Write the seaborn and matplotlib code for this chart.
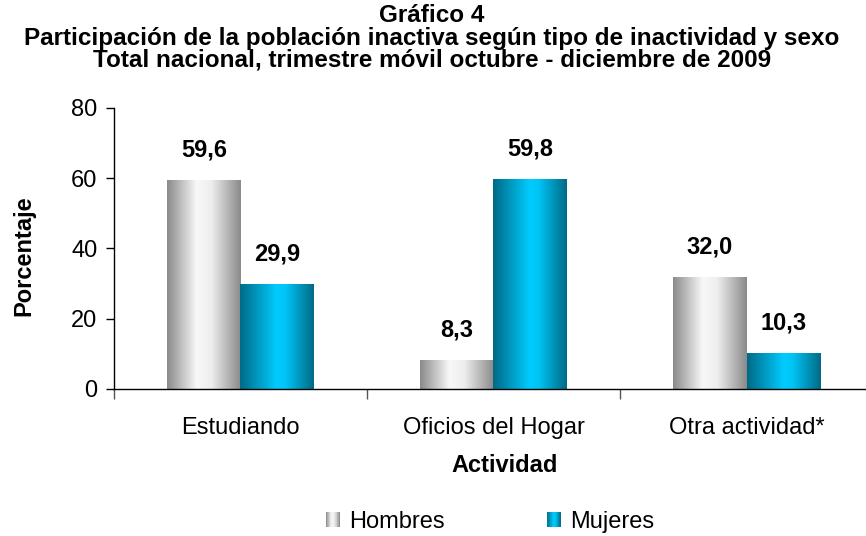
import matplotlib
matplotlib.use("Agg")
import numpy as np
import pandas as pd
import seaborn as sns
from matplotlib import pyplot as plt
from matplotlib.colors import LinearSegmentedColormap
from matplotlib.legend_handler import HandlerPatch
from matplotlib.patches import Patch, Rectangle

# Datos del gráfico
categorias = ["Estudiando", "Oficios del Hogar", "Otra actividad*"]
hombres = [59.6, 8.3, 32.0]
mujeres = [29.9, 59.8, 10.3]
series = ["Hombres", "Mujeres"]
titulo = ["Gráfico 4",
          "Participación de la población inactiva según tipo de inactividad y sexo",
          "Total nacional, trimestre móvil octubre - diciembre de 2009"]

sns.set_theme(style="white")
plt.rcParams['font.family'] = ['Liberation Sans', 'DejaVu Sans']
plt.rcParams['text.color'] = 'black'
plt.rcParams['axes.labelcolor'] = 'black'
plt.rcParams['xtick.color'] = 'black'
plt.rcParams['ytick.color'] = 'black'

df = pd.DataFrame({
    "Actividad": categorias * 2,
    "Sexo": [series[0]] * 3 + [series[1]] * 3,
    "Porcentaje": hombres + mujeres,
})

# Degradados tipo cilindro
cmap_gris = LinearSegmentedColormap.from_list(
    "gris", [(0.0, "#8a8a8a"), (0.4, "#f8f8f8"), (0.6, "#eeeeee"), (1.0, "#8a8a8a")])
cmap_cian = LinearSegmentedColormap.from_list(
    "cian", [(0.0, "#006a86"), (0.5, "#00ccff"), (0.62, "#00c4f4"), (1.0, "#006a86")])
cmaps = {"Hombres": cmap_gris, "Mujeres": cmap_cian}


class GradientHandler(HandlerPatch):
    def __init__(self, cmap, n=20):
        super().__init__()
        self.cmap = cmap
        self.n = n

    def create_artists(self, legend, orig_handle, xdescent, ydescent,
                       width, height, fontsize, trans):
        artists = []
        for i in range(self.n):
            r = Rectangle((-xdescent + width * i / self.n, -ydescent), width / self.n + 0.3, height,
                          facecolor=self.cmap((i + 0.5) / self.n), edgecolor="none", transform=trans)
            artists.append(r)
        return artists


fig = plt.figure(figsize=(8.66, 5.36), dpi=100)
ax = fig.add_axes([0.1316, 0.2743, 0.8765, 0.5243])

sns.barplot(data=df, x="Actividad", y="Porcentaje", hue="Sexo", hue_order=series,
            order=categorias, width=0.58, palette=["#c8c8c8", "#00a0c8"],
            legend=False, ax=ax, saturation=1)

# Pintar el degradado sobre cada barra
grad = np.linspace(0, 1, 256).reshape(1, -1)
for container, s in zip(ax.containers, series):
    for patch in container.patches:
        x0, w, h = patch.get_x(), patch.get_width(), patch.get_height()
        im = ax.imshow(grad, extent=[x0, x0 + w, 0, h], aspect="auto", cmap=cmaps[s],
                       zorder=patch.get_zorder() + 0.1)
        im.set_clip_path(patch)
    ax.bar_label(container, labels=[f"{v:.1f}".replace(".", ",") for v in container.datavalues],
                 padding=13, fontsize=17, fontweight="bold")

ax.set_xlim(-0.5, 2.5)
ax.set_ylim(0, 80)
ax.set_yticks([0, 20, 40, 60, 80])
ax.set_xticks([0.5, 1.5, -0.5], minor=True)
ax.tick_params(axis="x", which="major", length=0, pad=20, labelsize=17)
ax.tick_params(axis="x", which="minor", length=7, width=1, color="#555555", direction="out", bottom=True)
ax.tick_params(axis="y", length=6, width=1, color="black", direction="out", labelsize=17, left=True, pad=6)
sns.despine(ax=ax)
for sp in ["left", "bottom"]:
    ax.spines[sp].set_color("black")
    ax.spines[sp].set_linewidth(1)

ax.set_ylabel("Porcentaje", fontsize=17, fontweight="bold")
ax.yaxis.set_label_coords(-0.103, 0.475)
ax.set_xlabel("Actividad", fontsize=17, fontweight="bold")
ax.xaxis.set_label_coords(0.515, -0.232)

# Título en tres líneas
for linea, yc in zip(titulo, [15, 38, 60]):
    fig.text(0.499, 1 - yc / 536, linea, ha="center", va="center", fontsize=17.5, fontweight="bold")

handles = [Patch(label=s) for s in series]
fig.legend(handles=handles, labels=series, loc="center", bbox_to_anchor=(0.566, 0.026),
           ncol=2, frameon=False, fontsize=17, handlelength=0.6, handleheight=0.6,
           handletextpad=0.4, columnspacing=4.3,
           handler_map={handles[0]: GradientHandler(cmap_gris), handles[1]: GradientHandler(cmap_cian)})

fig.savefig("out.png", dpi=100)
